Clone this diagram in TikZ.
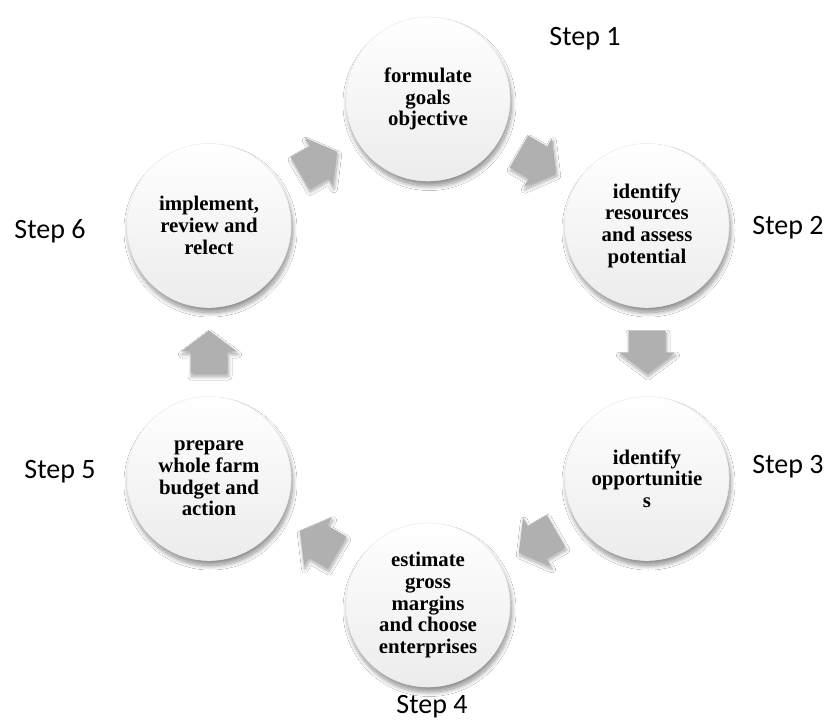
\documentclass[tikz,border=0pt]{standalone}
\usepackage{fontspec}
\setmainfont{Liberation Serif}
\newfontfamily\stepfont{Carlito}
\usetikzlibrary{calc,shadows.blur}

\newcommand\cyclearrowbetween[3]{%
  \coordinate (m#1#2) at ($(#1)!0.5!(#2)$);
  \fill[cyclearrow, shift={(m#1#2)}, rotate=#3]
    (-21.5,-18.5) -- (0.5,-18.5) -- (0.5,-28) -- (21.5,0) -- (0.5,28) -- (0.5,18.5) -- (-21.5,18.5) -- cycle;}

\begin{document}
\begin{tikzpicture}[x=1pt,y=-1pt,
  stepcircle/.style={circle, minimum size=164pt, inner sep=0pt,
    top color=white, bottom color=gray!15, draw=gray!14, line width=0.6pt, align=center,
    font=\fontsize{20.8}{21.7}\selectfont\bfseries,
    blur shadow={shadow xshift=1.5pt, shadow yshift=-5pt, shadow blur radius=4.5pt, shadow blur steps=16, shadow opacity=45}},
  steplabel/.style={font=\stepfont\fontsize{28}{30}\selectfont, inner sep=0pt},
  cyclearrow/.style={fill=gray!62,
    blur shadow={shadow xshift=1pt, shadow yshift=-3pt, shadow blur radius=3.5pt, shadow blur steps=12, shadow opacity=35}}
]
\fill[white] (0,0) rectangle (828,727);
\useasboundingbox (0,0) rectangle (828,727);

\node[stepcircle] (c1) at (428,99) {formulate\\goals\\objective};
\node[stepcircle] (c2) at (647,225.5) {identify\\resources\\and assess\\potential};
\node[stepcircle] (c3) at (647,478.5) {identify\\opportunitie\\s};
\node[stepcircle] (c4) at (428,605) {estimate\\gross\\margins\\and choose\\enterprises};
\node[stepcircle] (c5) at (209,478.5) {prepare\\whole farm\\budget and\\action};
\node[stepcircle] (c6) at (209,225.5) {implement,\\review and\\relect};

\cyclearrowbetween{c1}{c2}{-30}
\cyclearrowbetween{c2}{c3}{-90}
\cyclearrowbetween{c3}{c4}{-150}
\cyclearrowbetween{c4}{c5}{150}
\cyclearrowbetween{c5}{c6}{90}
\cyclearrowbetween{c6}{c1}{30}

\node[steplabel] (s1) at (585,39) {Step 1};
\node[steplabel] (s2) at (788,228) {Step 2};
\node[steplabel] (s3) at (788,467) {Step 3};
\node[steplabel] (s4) at (432,707) {Step 4};
\node[steplabel] (s5) at (60,472) {Step 5};
\node[steplabel] (s6) at (50,231) {Step 6};
\end{tikzpicture}
\end{document}
